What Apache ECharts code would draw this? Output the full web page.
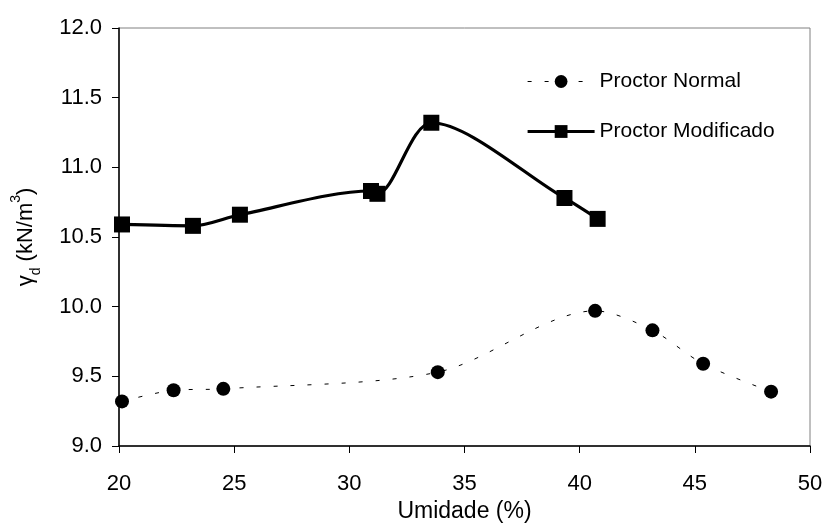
<!DOCTYPE html>
<html lang="pt">
<head>
    <meta charset="utf-8">
    <title>index</title>
    <style>
        html, body { margin: 0; padding: 0; background: #fff; }
    </style>
</head>
<body>
    <div id="main" style="width: 827px;height:525px;"></div>
    <script src="https://cdn.jsdelivr.net/npm/echarts@6/dist/echarts.min.js"></script>
    <script>
        // dados
        var normalX = [20.13, 22.37, 24.53, 33.84, 40.67, 43.16, 45.36, 48.31];
        var normalY = [9.32, 9.40, 9.41, 9.53, 9.97, 9.83, 9.59, 9.39];
        var modX = [20.13, 23.21, 25.25, 30.94, 31.22, 33.56, 39.34, 40.78];
        var modY = [10.59, 10.58, 10.66, 10.83, 10.81, 11.32, 10.78, 10.63];
        var seriesNames = ['Proctor Normal', 'Proctor Modificado'];

        function pairs(xs, ys) {
            return xs.map(function (x, i) { return [x, ys[i]]; });
        }

        var font = 'Liberation Sans';
        var myChart = echarts.init(document.getElementById('main'));

        var option = {
            backgroundColor: '#fff',
            animation: false,
            textStyle: { fontFamily: font },
            grid: {
                left: 119, right: 17, top: 28, bottom: 79,
                outerBoundsMode: 'none',
                containLabel: false,
                show: true,
                borderColor: '#808080',
                borderWidth: 1
            },
            legend: {
                orient: 'vertical',
                left: 526,
                top: 71,
                padding: 0,
                itemWidth: 67,
                itemHeight: 16,
                itemGap: 29,
                data: [
                    { name: seriesNames[0], lineStyle: { width: 1 } },
                    { name: seriesNames[1], lineStyle: { width: 3.2 } }
                ],
                textStyle: { fontFamily: font, fontSize: 21, color: '#000' }
            },
            xAxis: {
                type: 'value',
                min: 20, max: 50, interval: 5,
                name: 'Umidade (%)',
                nameLocation: 'middle',
                nameGap: 49,
                nameTextStyle: { fontFamily: font, fontSize: 23, color: '#000' },
                axisLine: { lineStyle: { color: '#000', width: 1.5 } },
                axisTick: { show: true, length: 7, lineStyle: { color: '#000' } },
                axisLabel: { fontFamily: font, fontSize: 22, color: '#000', margin: 27 },
                splitLine: { show: false }
            },
            yAxis: {
                type: 'value',
                min: 9, max: 12, interval: 0.5,
                name: '{g|γ}{s|d}{g| (kN/m}{p|3}{g|)}',
                nameLocation: 'middle',
                nameGap: 80,
                nameTextStyle: {
                    fontFamily: font, fontSize: 22, color: '#000',
                    rich: {
                        g: { fontFamily: font, fontSize: 22, color: '#000', lineHeight: 26, verticalAlign: 'middle' },
                        s: { fontFamily: font, fontSize: 14, color: '#000', lineHeight: 12, verticalAlign: 'bottom', padding: [0, 0, -4, 0] },
                        p: { fontFamily: font, fontSize: 14, color: '#000', lineHeight: 12, verticalAlign: 'top', padding: [-4, 0, 0, 0] }
                    }
                },
                axisLine: { show: true, lineStyle: { color: '#000', width: 1.5 } },
                axisTick: { show: true, length: 7, lineStyle: { color: '#000' } },
                axisLabel: {
                    fontFamily: font, fontSize: 22, color: '#000', margin: 17,
                    formatter: function (v) { return v.toFixed(1); }
                },
                splitLine: { show: false }
            },
            series: [
                {
                    name: seriesNames[0],
                    type: 'line',
                    data: pairs(normalX, normalY),
                    smooth: 0.3,
                    symbol: 'circle',
                    symbolSize: 14,
                    itemStyle: { color: '#000' },
                    lineStyle: { color: '#000', width: 1, type: [4, 13] },
                    z: 3
                },
                {
                    name: seriesNames[1],
                    type: 'line',
                    data: pairs(modX, modY),
                    smooth: 0.3,
                    symbol: 'rect',
                    symbolSize: 16,
                    itemStyle: { color: '#000' },
                    lineStyle: { color: '#000', width: 3.2 },
                    z: 4
                }
            ]
        };

        myChart.setOption(option);
    </script>
</body>
</html>
